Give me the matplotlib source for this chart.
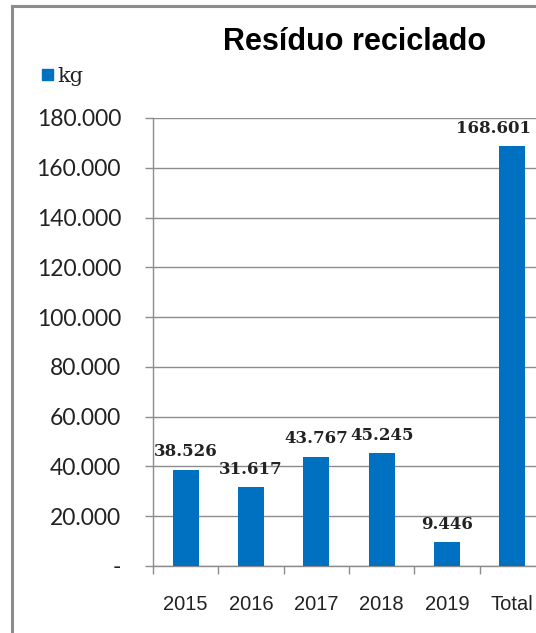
import matplotlib
matplotlib.use("Agg")
import matplotlib.pyplot as plt
from matplotlib.ticker import FuncFormatter, FixedLocator
from matplotlib.patches import Rectangle
from matplotlib.lines import Line2D

categories = ["2015", "2016", "2017", "2018", "2019", "Total"]
values = [38526, 31617, 43767, 45245, 9446, 168601]
title = "Resíduo reciclado"
series_name = "kg"

BLUE = "#0070C0"
GRAY = "#8c8c8c"

fig = plt.figure(figsize=(5.36, 6.33), dpi=100)
W, H = 536, 633

# outer chart frame
fig.add_artist(Line2D([12 / W, 12 / W], [0, 1 - 6 / H], transform=fig.transFigure,
                      color=GRAY, lw=2.2))
fig.add_artist(Line2D([12 / W, 1.0], [1 - 6 / H, 1 - 6 / H], transform=fig.transFigure,
                      color=GRAY, lw=2.2))

left, right = 153, 545
bottom, top = 566, 118
ax = fig.add_axes([left / W, 1 - bottom / H, (right - left) / W, (bottom - top) / H])

x = list(range(len(categories)))
ax.bar(x, values, width=0.4, color=BLUE, zorder=3)
ax.set_xlim(-0.5, len(categories) - 0.5)
ax.set_ylim(0, 180000)

ax.yaxis.set_major_locator(FixedLocator(range(0, 180001, 20000)))


def fmt(v, _pos=None):
    if v == 0:
        return "-"
    return f"{int(v):,}".replace(",", ".")


ax.yaxis.set_major_formatter(FuncFormatter(fmt))
ax.grid(axis="y", color=GRAY, lw=1.0, zorder=0)

for s in ["top", "right"]:
    ax.spines[s].set_visible(False)
for s in ["left", "bottom"]:
    ax.spines[s].set_color(GRAY)
    ax.spines[s].set_linewidth(1.0)

ax.tick_params(axis="y", length=6, width=1.0, color=GRAY, pad=17,
               labelsize=16.5, labelcolor="#222222")
for lab in ax.get_yticklabels():
    lab.set_fontfamily("Lato")

ax.set_xticks(x)
ax.set_xticklabels(categories, fontfamily="Liberation Sans", fontsize=14.5, color="#222222")
ax.set_xticks([i - 0.5 for i in range(len(categories) + 1)], minor=True)
ax.tick_params(axis="x", which="major", length=0, pad=21)
ax.tick_params(axis="x", which="minor", length=6, width=1.0, color=GRAY)

for i, (xi, v) in enumerate(zip(x, values)):
    last = i == len(values) - 1
    anchor_x = xi + 0.2 if last else xi
    ax.annotate(fmt(v), (anchor_x, v), xytext=(4 if last else 0, 7),
                textcoords="offset points",
                ha="right" if last else "center", va="bottom",
                fontsize=12, fontweight="bold",
                fontfamily="DejaVu Serif", color="#222222", annotation_clip=False)

fig.text(355 / W, 1 - 42 / H, title, ha="center", va="center",
         fontsize=22, fontweight="bold", fontfamily="Liberation Sans")

# legend
fig.add_artist(Rectangle((42 / W, 1 - 80 / H), 11 / W, 11 / H,
                         transform=fig.transFigure, color=BLUE))
fig.text(57 / W, 1 - 76 / H, series_name, ha="left", va="center",
         fontsize=15, fontfamily="DejaVu Serif", color="#222222")

fig.savefig("out.png", dpi=100)
